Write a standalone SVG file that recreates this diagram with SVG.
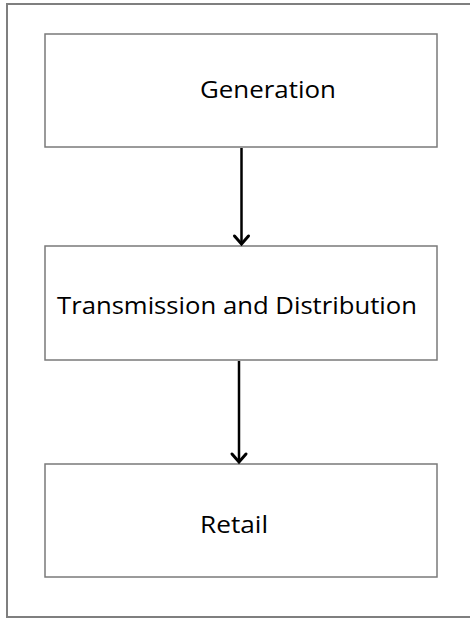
<svg xmlns="http://www.w3.org/2000/svg" width="470" height="619" viewBox="0 0 470 619">
<style>
.frame{fill:#fff;stroke:#7f7f7f;stroke-width:2}
.box{fill:#fff;stroke:#7a7a7a;stroke-width:1.5}
.lbl{font-family:"Open Sans","Liberation Sans",sans-serif;font-size:24px;fill:#000}
.conn{stroke:#000;stroke-width:2.5;fill:none}
.head{stroke:#000;stroke-width:3;fill:none;stroke-linecap:round;stroke-linejoin:miter}
</style>
<rect x="0" y="0" width="470" height="619" fill="#fff"/>
<rect class="frame" x="7" y="4" width="480" height="613"/>
<g id="generation">
<rect class="box" x="45" y="34" width="392" height="113"/>
<text class="lbl" x="200" y="98" textLength="136" lengthAdjust="spacingAndGlyphs">Generation</text>
</g>
<g id="transmission">
<rect class="box" x="45" y="246" width="392" height="114"/>
<text class="lbl" x="57" y="314" textLength="360" lengthAdjust="spacingAndGlyphs">Transmission and Distribution</text>
</g>
<g id="retail">
<rect class="box" x="45" y="464" width="392" height="113"/>
<text class="lbl" x="200" y="533" textLength="68" lengthAdjust="spacingAndGlyphs">Retail</text>
</g>
<g id="connectors">
<line class="conn" x1="241.5" y1="148" x2="241.5" y2="244"/>
<polyline class="head" points="234.5,236 241.5,244 248.5,236"/>
<line class="conn" x1="239" y1="361" x2="239" y2="462"/>
<polyline class="head" points="232,454 239,462 246,454"/>
</g>
</svg>
